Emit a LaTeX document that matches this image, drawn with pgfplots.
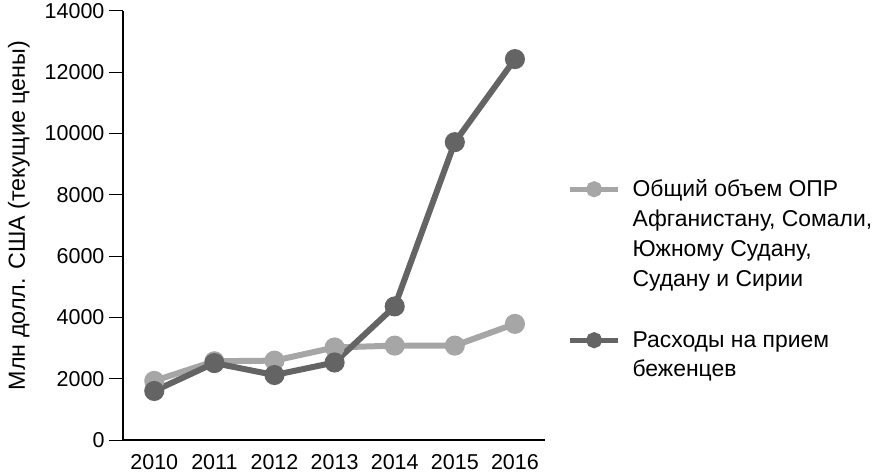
\documentclass[border=0pt]{standalone}
\usepackage{pgfplots}
\pgfplotsset{compat=1.18}
\usepackage{fontspec}
\setmainfont{Liberation Sans}
\definecolor{lightg}{RGB}{166,166,166}
\definecolor{darkg}{RGB}{100,100,100}
\pgfplotsset{
  legimg/.style={legend image code/.code={\draw[mark repeat=2, mark phase=2, ##1, line width=5pt, mark size=5.5pt] plot coordinates {(0pt,#1) (24pt,#1) (48pt,#1)};}}
}
\begin{document}
\begin{tikzpicture}
\useasboundingbox (-123pt,-34pt) rectangle (752pt,440pt);
\begin{axis}[
  scale only axis,
  width=422pt, height=429pt,
  at={(0pt,0pt)}, anchor=south west,
  xmin=-0.52, xmax=6.5,
  ymin=0, ymax=14000,
  axis x line*=bottom, axis y line*=left,
  axis line style={line width=1.6pt, black},
  xtick={0,...,6},
  xticklabels={2010,2011,2012,2013,2014,2015,2016},
  x tick style={draw=none},
  ytick={0,2000,...,14000},
  scaled y ticks=false,
  y tick style={line width=1pt, black},
  tick align=outside,
  major tick length=14pt,
  yticklabel style={/pgf/number format/1000 sep={}, /pgf/number format/assume math mode=true, xshift=-1pt},
  xticklabel style={yshift=3pt},
  tick label style={font=\fontsize{21.5}{25}\selectfont},
  ylabel={Млн долл. США (текущие цены)},
  ylabel style={font=\fontsize{23.3}{27}\selectfont, at={(ticklabel cs:0.523)}, yshift=8pt},
  legend style={draw=none, fill=none, at={(axis description cs:1.046,0.616)}, anchor=north west,
    font=\fontsize{22.9}{29.7}\selectfont, cells={align=left, anchor=west}, row sep=40pt,
    /tikz/every odd column/.append style={column sep=10pt}},
  legend cell align=left,
  clip=false,
]
\addplot[color=lightg, line width=6pt, mark=*, mark size=7pt, mark options={solid}, legimg=44.5pt] coordinates {
 (0,1930) (1,2570) (2,2590) (3,3020) (4,3080) (5,3080) (6,3790)};
\addlegendentry{Общий объем ОПР\\Афганистану, Сомали,\\Южному Судану,\\Судану и Сирии}
\addplot[color=darkg, line width=6pt, mark=*, mark size=7pt, mark options={solid}, legimg=14.8pt] coordinates {
 (0,1600) (1,2510) (2,2120) (3,2530) (4,4360) (5,9720) (6,12430)};
\addlegendentry{Расходы на прием\\беженцев}
\end{axis}
\end{tikzpicture}
\end{document}
